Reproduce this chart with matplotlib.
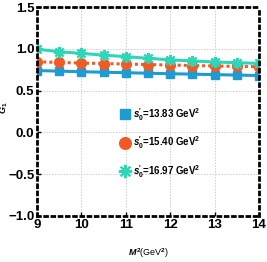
import matplotlib
matplotlib.use("Agg")
import matplotlib.pyplot as plt
import numpy as np

M2 = [9, 9.5, 10, 10.5, 11, 11.5, 12, 12.5, 13, 13.5, 14]
g_1383 = [0.740, 0.733, 0.726, 0.720, 0.714, 0.708, 0.702, 0.697, 0.691, 0.686, 0.680]
g_1540 = [0.845, 0.837, 0.830, 0.824, 0.818, 0.812, 0.806, 0.800, 0.795, 0.790, 0.786]
g_1697 = [0.995, 0.966, 0.945, 0.925, 0.906, 0.887, 0.868, 0.855, 0.843, 0.834, 0.826]
labels = [r"$s_0'$=13.83 GeV$^2$", r"$s_0'$=15.40 GeV$^2$", r"$s_0'$=16.97 GeV$^2$"]
xticks = [9, 10, 11, 12, 13, 14]
yticks = [-1.0, -0.5, 0.0, 0.5, 1.0, 1.5]

plt.rcParams['font.family'] = ['Liberation Sans', 'DejaVu Sans']
plt.rcParams['mathtext.fontset'] = 'custom'
plt.rcParams['mathtext.rm'] = 'Liberation Sans:bold'
plt.rcParams['mathtext.it'] = 'Liberation Sans:italic:bold'
plt.rcParams['mathtext.bf'] = 'Liberation Sans:bold'

fig = plt.figure(figsize=(2.67, 2.62), dpi=100)
ax = fig.add_axes([0.139, 0.176, 0.831, 0.797])

c_blue = '#1f9bd1'
c_orange = '#f25a24'
c_teal = '#2ed6b8'

ax.plot(M2, g_1383, color=c_blue, lw=2.2, ls='-', marker='s', ms=6, label=labels[0])
ax.plot(M2, g_1540, color=c_orange, lw=2.2, ls=(0, (1, 1)), marker='o', ms=7, label=labels[1])
ax.plot(M2, g_1697, color=c_teal, lw=2.2, ls='-', marker=(8, 2, 0), ms=8, mew=1.5, label=labels[2])

ax.set_xlim(9, 14)
ax.set_ylim(-1.0, 1.5)
ax.set_xticks(xticks)
ax.set_yticks(yticks)
ax.set_xticklabels([str(t) for t in xticks], fontsize=9.5, fontweight='bold')
ax.set_yticklabels([f"{t:.1f}".replace('-', '\u2212') for t in yticks], fontsize=9.5, fontweight='bold')
ax.grid(True, color='#cccccc', ls=(0, (1.5, 1.5)), lw=0.7)
ax.tick_params(direction='in', length=3, width=1, pad=2)

for s in ax.spines.values():
    s.set_linestyle((0, (1, 1.6)))
    s.set_linewidth(2.0)
    s.set_color('black')

ax.set_xlabel(r"$M^2$(GeV$^2$)", fontsize=6.5)
ax.xaxis.set_label_coords(0.5, -0.145)
ax.set_ylabel(r"$G_1$", fontsize=6.5)
ax.yaxis.set_label_coords(-0.12, 0.52)

leg = ax.legend(loc='center', bbox_to_anchor=(0.56, 0.35), frameon=False, fontsize=7,
                handlelength=0.6, handletextpad=0.5, labelspacing=1.2, numpoints=1,
                markerscale=1.2)
for h in leg.legend_handles:
    h.set_linestyle('None')
for t in leg.get_texts():
    t.set_fontweight('bold')

fig.savefig('out.png', dpi=100)
